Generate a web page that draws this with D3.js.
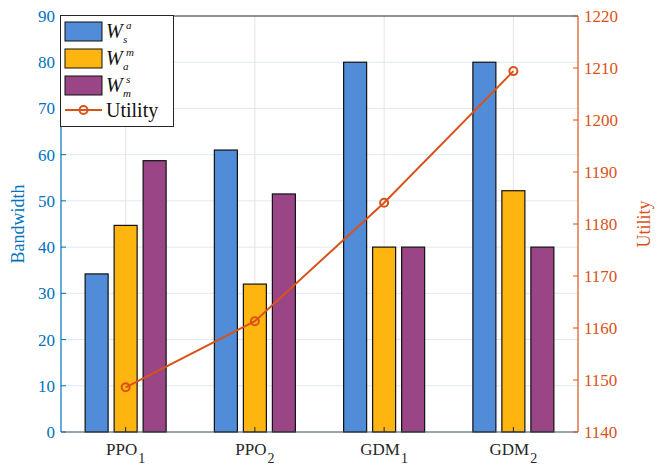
<!DOCTYPE html>
<html>
<head>
<meta charset="utf-8">
<script src="https://cdn.jsdelivr.net/npm/d3@7"></script>
<style>
  html, body { margin: 0; padding: 0; background: #fff; }
  svg { display: block; }
  svg text { font-family: "Liberation Serif", "DejaVu Serif", "Times New Roman", Times, serif; }
</style>
</head>
<body>
<svg id="chart" width="665" height="465"></svg>
<script>
// Methods on the x axis (name + subscript)
const methods = ["PPO", "PPO", "GDM", "GDM"];
const methodSubs = ["1", "2", "1", "2"];
// Bandwidth allocations per method
const wsa = [34.2, 61, 80, 80];
const wam = [44.7, 32, 40, 52.2];
const wms = [58.7, 51.5, 40, 40];
// Utility per method (right axis)
const utility = [1148.6, 1161.3, 1184.1, 1209.4];
// Tick values
const leftTicks = [0, 10, 20, 30, 40, 50, 60, 70, 80, 90];
const rightTicks = [1140, 1150, 1160, 1170, 1180, 1190, 1200, 1210, 1220];

const FONT = '"Liberation Serif", "DejaVu Serif", "Times New Roman", Times, serif';
const blue = "#0072BD", orange = "#D95319", axisGray = "#262626";
const seriesColors = ["#518CD8", "#FFB50F", "#9A4585"];
const seriesData = [wsa, wam, wms];

const svg = d3.select("#chart").attr("font-family", FONT);
const L = 61, R = 578, T = 16, B = 432;

const x = d3.scaleBand().domain(d3.range(methods.length)).range([L, R]).padding(0);
const yL = d3.scaleLinear().domain([0, 90]).range([B, T]);
const yR = d3.scaleLinear().domain([1140, 1220]).range([B, T]);
const cx = i => x(i) + x.bandwidth() / 2;

// grid
svg.append("g").selectAll("line").data(leftTicks.slice(1, -1)).join("line")
  .attr("x1", L).attr("x2", R).attr("y1", d => yL(d)).attr("y2", d => yL(d))
  .attr("stroke", "#DCEAF6").attr("stroke-width", 1);
svg.append("g").selectAll("line").data(d3.range(methods.length)).join("line")
  .attr("x1", cx).attr("x2", cx)
  .attr("y1", T).attr("y2", B)
  .attr("stroke", "#E3E3E3").attr("stroke-width", 1);

// bars
const barW = 23, step = 29;
seriesData.forEach((vals, s) => {
  svg.append("g").selectAll("rect").data(vals).join("rect")
    .attr("x", (d, i) => cx(i) + (s - 1) * step - barW / 2)
    .attr("y", d => yL(d))
    .attr("width", barW)
    .attr("height", d => B - yL(d))
    .attr("fill", seriesColors[s])
    .attr("stroke", "#111").attr("stroke-width", 1.2);
});

// box top + bottom axis
svg.append("line").attr("x1", L).attr("x2", R).attr("y1", T).attr("y2", T)
  .attr("stroke", axisGray).attr("stroke-width", 1);
svg.append("line").attr("x1", L).attr("x2", R).attr("y1", B).attr("y2", B)
  .attr("stroke", "#3A4A5A").attr("stroke-width", 1.2);
// bottom ticks (inward)
svg.append("g").selectAll("line").data(d3.range(methods.length)).join("line")
  .attr("x1", cx).attr("x2", cx)
  .attr("y1", B).attr("y2", B - 5).attr("stroke", axisGray);

// left axis
const gl = svg.append("g");
gl.append("line").attr("x1", L).attr("x2", L).attr("y1", T).attr("y2", B).attr("stroke", blue).attr("stroke-width", 1.2);
gl.selectAll("line.t").data(leftTicks).join("line").attr("class", "t")
  .attr("x1", L).attr("x2", L + 5).attr("y1", d => yL(d)).attr("y2", d => yL(d)).attr("stroke", blue);
gl.selectAll("text").data(leftTicks).join("text")
  .attr("x", L - 6).attr("y", d => yL(d)).attr("dy", "0.35em")
  .attr("text-anchor", "end").attr("fill", blue).attr("font-size", 17).text(d => d);
svg.append("text").attr("transform", `translate(24,${(T + B) / 2}) rotate(-90)`)
  .attr("text-anchor", "middle").attr("fill", blue).attr("font-size", 18).text("Bandwidth");

// right axis
const gr = svg.append("g");
gr.append("line").attr("x1", R).attr("x2", R).attr("y1", T).attr("y2", B).attr("stroke", orange).attr("stroke-width", 1.2);
gr.selectAll("line.t").data(rightTicks).join("line").attr("class", "t")
  .attr("x1", R).attr("x2", R - 5).attr("y1", d => yR(d)).attr("y2", d => yR(d)).attr("stroke", orange);
gr.selectAll("text").data(rightTicks).join("text")
  .attr("x", R + 6).attr("y", d => yR(d)).attr("dy", "0.35em")
  .attr("text-anchor", "start").attr("fill", orange).attr("font-size", 17).text(d => d);
svg.append("text").attr("transform", `translate(650,${(T + B) / 2}) rotate(-90)`)
  .attr("text-anchor", "middle").attr("fill", orange).attr("font-size", 18).text("Utility");

// x labels
const xl = svg.append("g");
methods.forEach((m, i) => {
  const t = xl.append("text").attr("x", cx(i)).attr("y", 455)
    .attr("text-anchor", "middle").attr("fill", axisGray).attr("font-size", 17);
  t.append("tspan").text(m);
  t.append("tspan").attr("dy", 8).attr("font-size", 14).attr("dx", 1).text(methodSubs[i]);
});

// utility line
const line = d3.line().x((d, i) => cx(i)).y(d => yR(d));
svg.append("path").datum(utility).attr("d", line).attr("fill", "none")
  .attr("stroke", orange).attr("stroke-width", 2);
svg.append("g").selectAll("circle").data(utility).join("circle")
  .attr("cx", (d, i) => cx(i)).attr("cy", d => yR(d)).attr("r", 4)
  .attr("fill", "none").attr("stroke", orange).attr("stroke-width", 2);

// legend
const lg = svg.append("g");
lg.append("rect").attr("x", 60.5).attr("y", 15.5).attr("width", 113).attr("height", 111)
  .attr("fill", "#fff").attr("stroke", axisGray).attr("stroke-width", 1);
const legendSymbols = [["s", "a"], ["a", "m"], ["m", "s"]];
legendSymbols.forEach((sym, k) => {
  const yy = 22 + k * 27;
  lg.append("rect").attr("x", 65).attr("y", yy).attr("width", 37).attr("height", 19)
    .attr("fill", seriesColors[k]).attr("stroke", "#111").attr("stroke-width", 1);
  lg.append("text").attr("x", 106).attr("y", yy + 16).attr("font-size", 20)
    .attr("font-style", "italic").attr("fill", "#111").text("W");
  lg.append("text").attr("x", 126).attr("y", yy + 7).attr("font-size", 11)
    .attr("font-style", "italic").attr("fill", "#111").text(sym[1]);
  lg.append("text").attr("x", 123).attr("y", yy + 21).attr("font-size", 11)
    .attr("font-style", "italic").attr("fill", "#111").text(sym[0]);
});
lg.append("line").attr("x1", 65).attr("x2", 102).attr("y1", 110).attr("y2", 110)
  .attr("stroke", orange).attr("stroke-width", 2);
lg.append("circle").attr("cx", 83.5).attr("cy", 110).attr("r", 4)
  .attr("fill", "none").attr("stroke", orange).attr("stroke-width", 2);
lg.append("text").attr("x", 106).attr("y", 117).attr("font-size", 20).attr("fill", "#111").text("Utility");
</script>
</body>
</html>
